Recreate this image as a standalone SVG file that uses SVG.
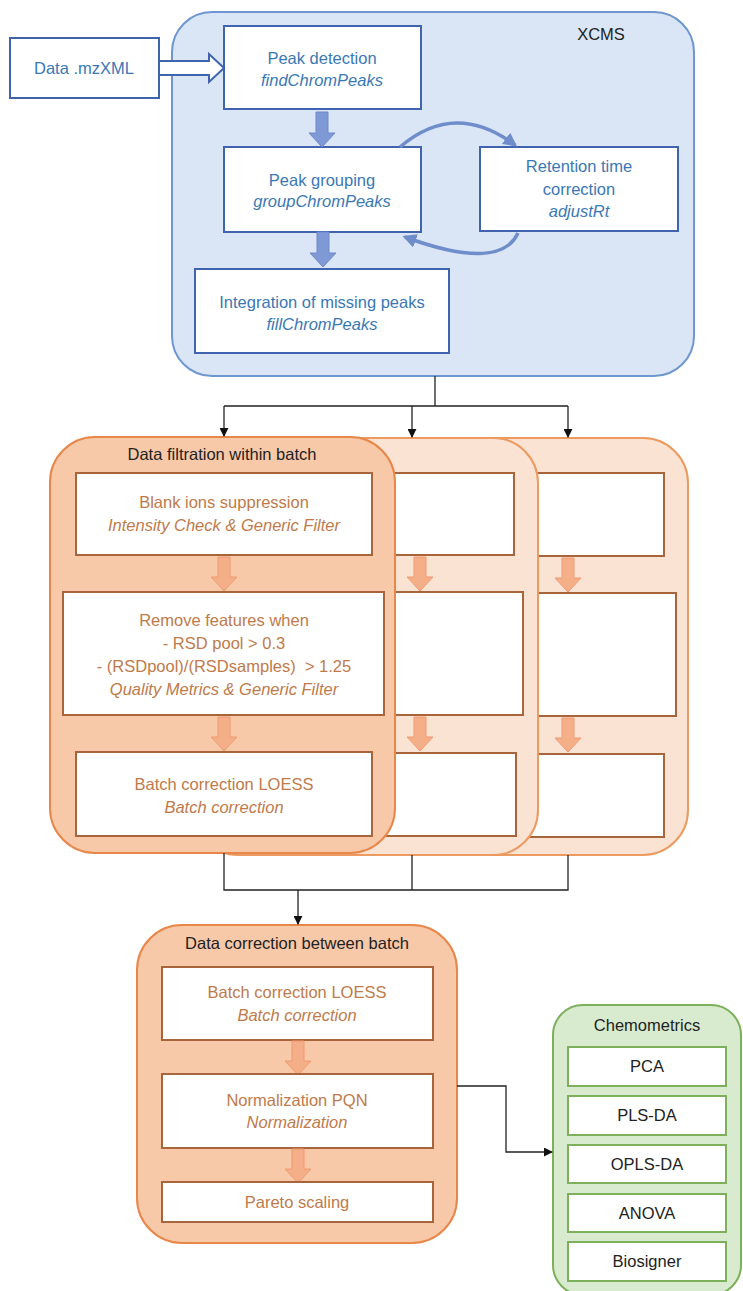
<svg xmlns="http://www.w3.org/2000/svg" xmlns:xlink="http://www.w3.org/1999/xlink" width="743" height="1291" viewBox="0 0 743 1291">
<style>
text{font-family:"Liberation Sans",Arial,sans-serif;font-size:16.5px;text-anchor:middle}
.bt{fill:#3A78B5}
.ot{fill:#C07A4A}
.it{font-style:italic}
.dk{fill:#222}
.bbox{fill:#fff;stroke:#3F63AE;stroke-width:2}
.obox{fill:#fff;stroke:#A8643A;stroke-width:2}
.gbox{fill:#fff;stroke:#7DB05A;stroke-width:2}
.conn{fill:none;stroke:#222;stroke-width:1.3}
.barr{fill:#7F98D6;stroke:#7088C8;stroke-width:1}
.oarr{fill:#F4AE88;stroke:#F09A70;stroke-width:1}
.curve{fill:none;stroke:#6F8CCB;stroke-width:3.5}
</style>
<defs>
<marker id="ah" viewBox="0 0 10 10" refX="9" refY="5" markerWidth="9" markerHeight="9" markerUnits="userSpaceOnUse" orient="auto"><path d="M0,0 L10,5 L0,10 Z" fill="#111"/></marker>
<marker id="ca" viewBox="0 0 10 10" refX="8" refY="5" markerWidth="4" markerHeight="4" orient="auto"><path d="M0,0 L10,5 L0,10 Z" fill="#6F8CCB"/></marker>
<path id="bdown" d="M-6,0 H6 V21 H13 L0,35 L-13,21 H-6 Z"/>
<path id="odown" d="M-6,0 H6 V20 H13 L0,34 L-13,20 H-6 Z"/>
</defs>

<g id="xcms">
<rect x="172" y="12" width="522" height="364" rx="40" fill="#DAE6F5" stroke="#6E97CF" stroke-width="2"/>
<text x="601" y="40" class="dk">XCMS</text>
</g>

<g id="data">
<rect x="10" y="38" width="149" height="60" class="bbox"/>
<text x="84" y="74" class="bt">Data .mzXML</text>
</g>

<g id="peakdet">
<rect x="224" y="26" width="197" height="83" class="bbox"/>
<text x="322" y="64" class="bt">Peak detection</text>
<text x="322" y="86" class="bt it">findChromPeaks</text>
</g>

<g id="peakgroup">
<rect x="224" y="147" width="197" height="85" class="bbox"/>
<text x="322" y="186" class="bt">Peak grouping</text>
<text x="322" y="207" class="bt it">groupChromPeaks</text>
</g>

<g id="rtcorr">
<rect x="480" y="147" width="198" height="84" class="bbox"/>
<text x="579" y="172" class="bt">Retention time</text>
<text x="579" y="195" class="bt">correction</text>
<text x="579" y="217" class="bt it">adjustRt</text>
</g>

<g id="integration">
<rect x="195" y="269" width="254" height="84" class="bbox"/>
<text x="322" y="308" class="bt">Integration of missing peaks</text>
<text x="322" y="330" class="bt it">fillChromPeaks</text>
</g>

<g id="batch3">
<rect x="343" y="438" width="345" height="417" rx="45" fill="#FBE3D3" stroke="#EC9A60" stroke-width="2"/>
<rect x="400" y="473" width="264" height="83" class="obox"/>
<rect x="400" y="593" width="276" height="123" class="obox"/>
<rect x="400" y="754" width="264" height="83" class="obox"/>
<use xlink:href="#odown" x="568" y="558" class="oarr"/>
<use xlink:href="#odown" x="568" y="718" class="oarr"/>
</g>

<g id="batch2">
<rect x="193" y="438" width="345" height="417" rx="45" fill="#FBE3D3" stroke="#EC9A60" stroke-width="2"/>
<rect x="250" y="473" width="264" height="82" class="obox"/>
<rect x="250" y="592" width="273" height="123" class="obox"/>
<rect x="250" y="753" width="266" height="83" class="obox"/>
<use xlink:href="#odown" x="420" y="557" class="oarr"/>
<use xlink:href="#odown" x="420" y="717" class="oarr"/>
</g>

<g id="batch1">
<rect x="50" y="437" width="345" height="416" rx="45" fill="#F8C9A8" stroke="#E8874A" stroke-width="2"/>
<text x="222" y="460" class="dk">Data filtration within batch</text>
<rect x="76" y="473" width="296" height="82" class="obox"/>
<text x="224" y="508" class="ot">Blank ions suppression</text>
<text x="224" y="531" class="ot it">Intensity Check &amp; Generic Filter</text>
<use xlink:href="#odown" x="224" y="557" class="oarr"/>
<rect x="63" y="592" width="321" height="123" class="obox"/>
<text x="224" y="626" class="ot">Remove features when</text>
<text x="224" y="649" class="ot">- RSD pool &gt; 0.3</text>
<text x="224" y="672" class="ot" xml:space="preserve">- (RSDpool)/(RSDsamples)  &gt; 1.25</text>
<text x="224" y="695" class="ot it">Quality Metrics &amp; Generic Filter</text>
<use xlink:href="#odown" x="224" y="717" class="oarr"/>
<rect x="76" y="752" width="296" height="84" class="obox"/>
<text x="224" y="790" class="ot">Batch correction LOESS</text>
<text x="224" y="813" class="ot it">Batch correction</text>
</g>

<g id="between">
<rect x="137" y="925" width="320" height="318" rx="45" fill="#F8C9A8" stroke="#E8874A" stroke-width="2"/>
<text x="297" y="949" class="dk">Data correction between batch</text>
<rect x="162" y="967" width="271" height="73" class="obox"/>
<text x="297" y="998" class="ot">Batch correction LOESS</text>
<text x="297" y="1021" class="ot it">Batch correction</text>
<use xlink:href="#odown" x="298" y="1041" class="oarr"/>
<rect x="162" y="1074" width="271" height="74" class="obox"/>
<text x="297" y="1106" class="ot">Normalization PQN</text>
<text x="297" y="1128" class="ot it">Normalization</text>
<use xlink:href="#odown" x="298" y="1149" class="oarr"/>
<rect x="162" y="1182" width="271" height="40" class="obox"/>
<text x="297" y="1208" class="ot">Pareto scaling</text>
</g>

<g id="chemometrics">
<rect x="553" y="1005" width="188" height="290" rx="30" fill="#D8EBCF" stroke="#7DB05A" stroke-width="2"/>
<text x="647" y="1031" class="dk">Chemometrics</text>
<rect x="568" y="1047" width="158" height="39" class="gbox"/>
<text x="647" y="1072" class="dk">PCA</text>
<rect x="568" y="1096" width="158" height="39" class="gbox"/>
<text x="647" y="1121" class="dk">PLS-DA</text>
<rect x="568" y="1145" width="158" height="38" class="gbox"/>
<text x="647" y="1170" class="dk">OPLS-DA</text>
<rect x="568" y="1194" width="158" height="38" class="gbox"/>
<text x="647" y="1219" class="dk">ANOVA</text>
<rect x="568" y="1242" width="158" height="39" class="gbox"/>
<text x="647" y="1267" class="dk">Biosigner</text>
</g>

<g id="connectors">
<path d="M159,61 H209 V54 L224,68 L209,82 V75 H159 Z" fill="#fff" stroke="#3F63AE" stroke-width="2"/>
<use xlink:href="#bdown" x="322" y="112" class="barr"/>
<use xlink:href="#bdown" x="323" y="232" class="barr"/>
<path d="M400,147 Q455,100 515,145" class="curve" marker-end="url(#ca)"/>
<path d="M518,233 Q500,272 405,237" class="curve" marker-end="url(#ca)"/>
<path d="M435,376 V406 M224,406 H568" class="conn"/>
<path d="M224,406 V436" class="conn" marker-end="url(#ah)"/>
<path d="M412,406 V437" class="conn" marker-end="url(#ah)"/>
<path d="M568,406 V437" class="conn" marker-end="url(#ah)"/>
<path d="M224,853 V890 H568 V855 M412,855 V890" class="conn"/>
<path d="M298,890 V924" class="conn" marker-end="url(#ah)"/>
<path d="M457,1086 H506 V1152 H552" class="conn" marker-end="url(#ah)"/>
</g>
</svg>
